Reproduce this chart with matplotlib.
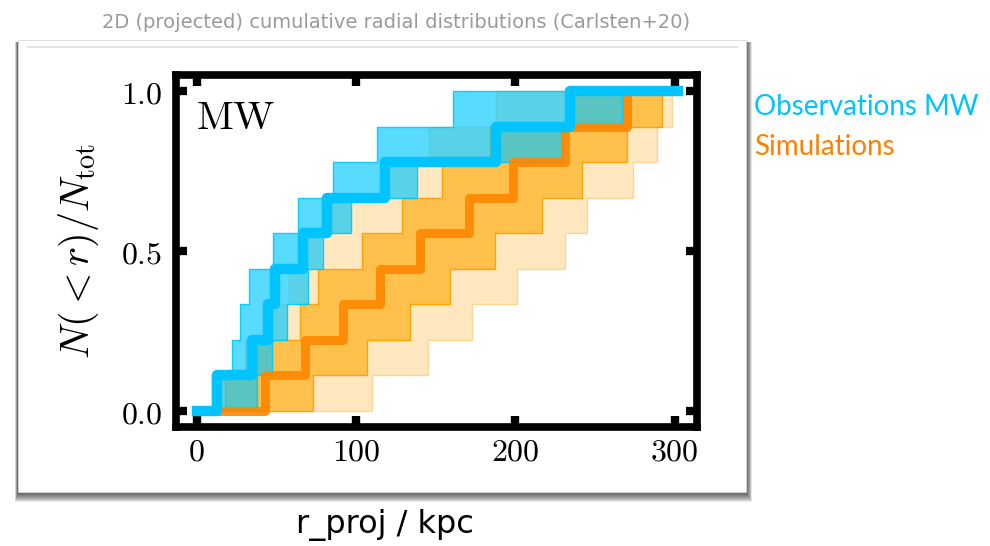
import matplotlib

matplotlib.use("Agg")
import matplotlib.pyplot as plt
from matplotlib.patches import Rectangle

plt.rcParams["mathtext.fontset"] = "cm"

# cumulative fraction levels (9 satellites)
levels = [0, 1 / 9, 2 / 9, 3 / 9, 4 / 9, 5 / 9, 6 / 9, 7 / 9, 8 / 9, 1]

# observed MW satellites: step positions (kpc) and fractions
obs_r = [0, 12.6, 34.5, 44.6, 49, 66.5, 81.6, 118, 188, 234, 302]
obs_frac = [0, 1 / 9, 2 / 9, 3 / 9, 4 / 9, 5 / 9, 6 / 9, 7 / 9, 8 / 9, 1, 1]
# observation band: left / right edge for each level
obs_band_left = [9.4, 22, 27, 33, 47.7, 63.4, 85.4, 113, 160.7]
obs_band_right = [38, 47, 56.5, 70, 79, 97, 138, 230, 267]

# simulations: median and two bands
sim_median_r = [0, 42.7, 67.8, 91.7, 115, 140, 171, 198.5, 231, 270, 300]
sim_median_frac = [0, 1 / 9, 2 / 9, 3 / 9, 4 / 9, 5 / 9, 6 / 9, 7 / 9, 8 / 9, 1, 1]
sim_inner_left = [17.6, 38, 65, 76, 104, 129, 154, 184, 231]
sim_inner_right = [73, 107, 134, 159, 187, 217, 242, 270, 292]
sim_outer_left = [11, 30, 46, 58, 65, 85, 121, 146, 188]
sim_outer_right = [110, 145, 173, 201, 231, 245, 274, 289, 298]

xticks = [0, 100, 200, 300]
xtick_labels = ["0", "100", "200", "300"]
yticks = [0.0, 0.5, 1.0]
ytick_labels = ["0.0", "0.5", "1.0"]

W, H = 990, 546


def fx(px):
    return px / W


def fy(py):
    return 1 - py / H


def band(ax, left, right, face, edge, lw=1.0):
    ax.fill_betweenx(levels, left + [left[-1]], right + [right[-1]], step="post",
                     facecolor=face, edgecolor=edge, linewidth=lw)


fig = plt.figure(figsize=(W / 100, H / 100), dpi=100)

# slide card with drop shadow
for i in range(10):
    grow = 1 + i
    fig.add_artist(Rectangle((fx(18 - 0.3 * grow), fy(492 + grow)),
                             fx(728 + 0.9 * grow), fy(42) - fy(492 + grow),
                             transform=fig.transFigure, facecolor="black", edgecolor="none",
                             alpha=0.09, zorder=0))
fig.add_artist(Rectangle((fx(18), fy(492)), fx(746) - fx(18), fy(40) - fy(492),
                         transform=fig.transFigure, facecolor="white", edgecolor="#d8d8d8",
                         linewidth=0.6, zorder=0.5))
fig.add_artist(plt.Line2D([fx(28), fx(737)], [fy(47), fy(47)], transform=fig.transFigure,
                          color="#dddddd", linewidth=1.2, zorder=0.6))

ax = fig.add_axes([fx(176), fy(427), fx(697) - fx(176), fy(75) - fy(427)])
ax.set_zorder(2)

band(ax, sim_outer_left, sim_outer_right, (1.0, 0.65, 0.0, 0.25), (1.0, 0.72, 0.3, 0.5))
band(ax, sim_inner_left, sim_inner_right, (1.0, 0.65, 0.0, 0.6), (1.0, 0.62, 0.0, 0.9))
ax.step(sim_median_r, sim_median_frac, where="post", color=(1.0, 0.53, 0.0), alpha=0.9,
        linewidth=6.5, solid_joinstyle="round")
band(ax, obs_band_left, obs_band_right, (0.0, 0.78, 1.0, 0.65), (0.0, 0.78, 1.0, 0.9))
ax.step(obs_r, obs_frac, where="post", color=(0.0, 0.77, 1.0), linewidth=7.5,
        solid_joinstyle="round")

ax.set_xlim(-13, 314)
ax.set_ylim(-0.05, 1.05)
ax.set_xticks(xticks, labels=[f"${t}$" for t in xtick_labels])
ax.set_yticks(yticks, labels=[f"${t}$" for t in ytick_labels])
ax.tick_params(direction="in", top=True, right=True, length=8, width=6, labelsize=23)
ax.tick_params(axis="x", pad=7)
ax.tick_params(axis="y", pad=10)
for s in ax.spines.values():
    s.set_linewidth(5.5)

ax.set_ylabel(r"$N(<r)/N_{\rm tot}$", fontsize=29)
ax.yaxis.set_label_coords(-0.144, 0.5)
ax.text(0.038, 0.935, r"$\mathrm{MW}$", transform=ax.transAxes, ha="left", va="top",
        fontsize=29)

# slide text around the card
fig.text(fx(396), fy(22), "2D (projected) cumulative radial distributions (Carlsten+20)",
         ha="center", va="center", color="#9a9a9a", fontsize=14, family="DejaVu Sans")
fig.text(fx(385), fy(525), "r_proj / kpc", ha="center", va="center", color="black",
         fontsize=23, family="DejaVu Sans")
fig.text(fx(754), fy(107), "Observations MW", ha="left", va="center", color="#00c3ff",
         fontsize=20, family="Lato")
fig.text(fx(754), fy(147), "Simulations", ha="left", va="center", color="#ff8000",
         fontsize=20, family="Lato")

fig.savefig("out.png", dpi=100)
